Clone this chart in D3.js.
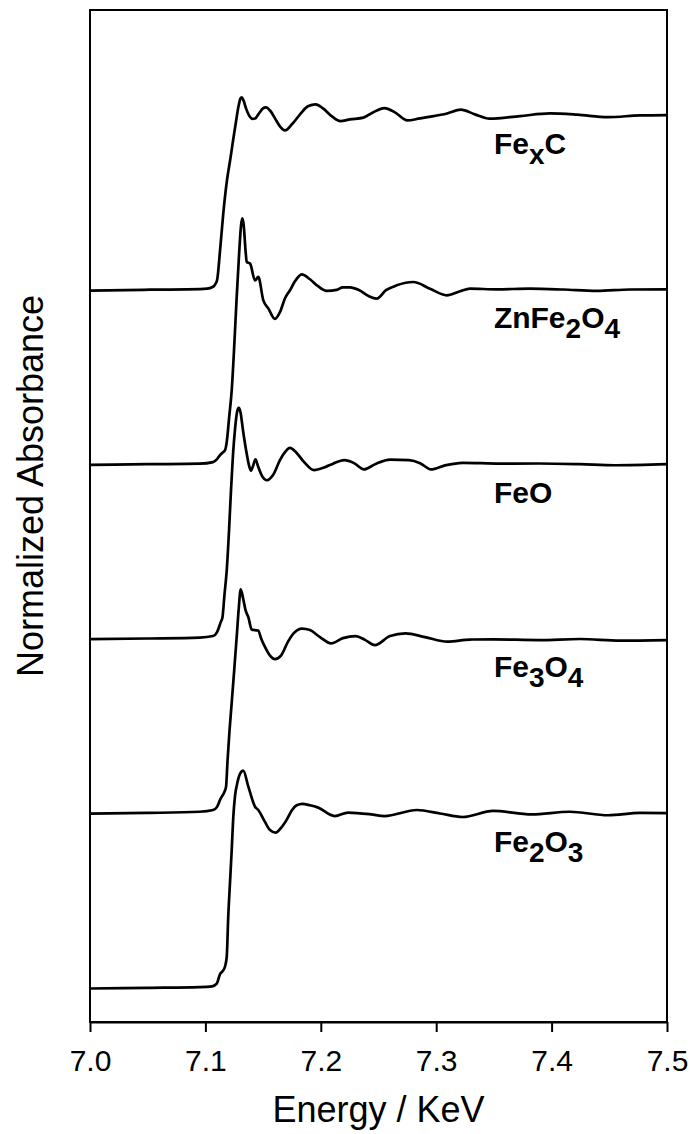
<!DOCTYPE html>
<html>
<head>
<meta charset="utf-8">
<script src="https://cdn.jsdelivr.net/npm/d3@7"></script>
<style>
body { margin: 0; background: #fff; }
</style>
</head>
<body>
<div id="chart"></div>
<script>
// energy (keV), normalized absorbance (before stacking offset)
var fe2o3 = [[7.000,-0.008],[7.050,-0.004],[7.095,0.000],[7.1057,0.004],[7.1098,0.020],[7.1127,0.075],[7.1150,0.092],[7.1170,0.118],[7.1185,0.175],[7.1198,0.404],[7.1213,0.597],[7.1228,0.786],[7.1242,0.977],[7.1256,1.092],[7.1276,1.168],[7.1300,1.222],[7.1328,1.241],[7.1372,1.149],[7.1430,1.034],[7.1458,1.015],[7.1516,0.947],[7.1560,0.900],[7.1609,0.885],[7.1655,0.912],[7.1705,0.960],[7.1751,1.015],[7.1791,1.042],[7.1840,1.050],[7.1906,1.042],[7.1972,1.030],[7.2121,0.980],[7.2236,1.000],[7.2435,0.990],[7.2552,0.980],[7.2834,1.015],[7.3033,0.995],[7.3230,0.975],[7.3492,1.010],[7.3826,0.990],[7.4157,1.005],[7.4489,0.985],[7.4766,0.998],[7.5000,0.997]];

var fe3o4 = [[7.000,-0.006],[7.050,-0.002],[7.095,0.005],[7.1066,0.015],[7.1101,0.033],[7.1127,0.073],[7.1146,0.096],[7.1165,0.119],[7.1179,0.149],[7.1192,0.300],[7.1209,0.470],[7.1228,0.630],[7.1250,0.820],[7.1271,1.005],[7.1289,1.170],[7.1306,1.280],[7.1326,1.230],[7.1348,1.160],[7.1372,1.120],[7.1401,1.050],[7.1426,1.046],[7.1458,1.044],[7.1482,1.000],[7.1516,0.950],[7.1560,0.900],[7.1603,0.880],[7.1655,0.900],[7.1716,0.980],[7.1768,1.030],[7.1835,1.055],[7.1906,1.046],[7.1993,1.006],[7.2088,0.970],[7.2192,1.000],[7.2303,1.012],[7.2383,0.990],[7.2469,0.960],[7.2600,1.012],[7.2734,1.027],[7.2903,1.006],[7.3098,0.980],[7.3293,0.992],[7.3495,0.993],[7.3891,0.989],[7.4246,0.995],[7.4593,0.986],[7.5000,0.989]];

var feo = [[7.000,-0.006],[7.050,-0.002],[7.095,0.003],[7.1066,0.012],[7.1101,0.035],[7.1133,0.092],[7.1148,0.120],[7.1165,0.247],[7.1185,0.390],[7.1205,0.620],[7.1222,0.850],[7.1239,1.050],[7.1257,1.200],[7.1274,1.295],[7.1289,1.320],[7.1304,1.295],[7.1326,1.190],[7.1352,1.080],[7.1378,0.990],[7.1395,0.960],[7.1412,0.985],[7.1434,1.025],[7.1456,0.985],[7.1490,0.930],[7.1534,0.905],[7.1586,0.935],[7.1646,1.020],[7.1690,1.066],[7.1733,1.090],[7.1785,1.066],[7.1854,1.010],[7.1941,0.963],[7.2036,0.980],[7.2106,1.000],[7.2204,1.020],[7.2288,1.003],[7.2374,0.967],[7.2470,0.997],[7.2600,1.023],[7.2764,1.020],[7.2860,1.003],[7.2955,0.967],[7.3076,0.990],[7.3230,1.005],[7.3553,1.000],[7.3891,1.001],[7.4246,0.997],[7.4549,0.991],[7.5000,0.997]];

var znfe2o4 = [[7.000,-0.007],[7.050,-0.003],[7.095,0.000],[7.1066,0.009],[7.1101,0.026],[7.1127,0.049],[7.1144,0.060],[7.1170,0.077],[7.1187,0.135],[7.1205,0.260],[7.1228,0.420],[7.1248,0.650],[7.1270,0.940],[7.1291,1.190],[7.1309,1.366],[7.1320,1.406],[7.1332,1.366],[7.1348,1.220],[7.1358,1.156],[7.1387,1.147],[7.1430,1.050],[7.1458,1.070],[7.1502,0.936],[7.1545,0.890],[7.1603,0.830],[7.1646,0.868],[7.1690,0.948],[7.1733,0.994],[7.1776,1.045],[7.1835,1.085],[7.1906,1.057],[7.1976,1.017],[7.2051,0.990],[7.2138,0.996],[7.2190,1.010],[7.2253,1.010],[7.2330,0.995],[7.2418,0.959],[7.2484,0.946],[7.2565,0.994],[7.2658,1.022],[7.2802,1.041],[7.2946,1.003],[7.3091,0.965],[7.3206,0.988],[7.3293,1.003],[7.3524,0.999],[7.3813,1.003],[7.4101,0.998],[7.4391,0.990],[7.4679,0.998],[7.5000,0.999]];

var fexc = [[7.000,-0.008],[7.052,-0.003],[7.0953,0.000],[7.1014,0.003],[7.1057,0.011],[7.1079,0.022],[7.1101,0.051],[7.1127,0.223],[7.1155,0.435],[7.1187,0.624],[7.1217,0.750],[7.1242,0.862],[7.1265,0.960],[7.1287,1.048],[7.1304,1.093],[7.1315,1.099],[7.1330,1.082],[7.1352,1.036],[7.1378,0.996],[7.1408,0.976],[7.1430,0.978],[7.1464,1.007],[7.1499,1.036],[7.1525,1.042],[7.1560,1.024],[7.1603,0.979],[7.1646,0.933],[7.1690,0.910],[7.1750,0.945],[7.1820,1.002],[7.1889,1.048],[7.1956,1.059],[7.2019,1.036],[7.2097,0.990],[7.2171,0.963],[7.2253,0.973],[7.2369,0.983],[7.2452,1.013],[7.2552,1.038],[7.2643,1.013],[7.2750,0.967],[7.2860,0.979],[7.2964,0.990],[7.3094,1.007],[7.3213,1.029],[7.3336,1.002],[7.3462,0.977],[7.3726,0.992],[7.3986,1.007],[7.4223,1.000],[7.4489,0.986],[7.4766,0.996],[7.5000,0.998]];

var seriesData = [fe2o3, fe3o4, feo, znfe2o4, fexc];
var offsets = [0, 1, 2, 3, 4];
// label pieces: [text, subscript?]
var labels = [
    [["Fe", 0], ["2", 1], ["O", 0], ["3", 1]],
    [["Fe", 0], ["3", 1], ["O", 0], ["4", 1]],
    [["FeO", 0]],
    [["ZnFe", 0], ["2", 1], ["O", 0], ["4", 1]],
    [["Fe", 0], ["x", 1], ["C", 0]]
];
var energyTicks = [7.0, 7.1, 7.2, 7.3, 7.4, 7.5];

var margin = { top: 10, right: 24, bottom: 112, left: 90 };
var width = 691 - margin.left - margin.right;
var height = 1134 - margin.top - margin.bottom;
var font = "'Liberation Sans', Arial, sans-serif";

var svg = d3.select("#chart")
    .append("svg")
    .attr("width", 691)
    .attr("height", 1134)
    .append("g")
    .attr("transform", `translate(${margin.left}, ${margin.top})`);

var x = d3.scaleLinear()
    .domain([7.0, 7.5])
    .range([0, width]);

var y = d3.scaleLinear()
    .domain([-0.2, 5.6])
    .range([height, 0]);

// frame
svg.append("rect")
    .attr("width", width)
    .attr("height", height)
    .attr("fill", "none")
    .attr("stroke", "#000")
    .attr("stroke-width", 2);

// X axis
var xAxis = svg.append("g")
    .attr("transform", `translate(0, ${height})`)
    .call(d3.axisBottom(x)
        .tickValues(energyTicks)
        .tickFormat(d3.format(".1f"))
        .tickSize(10)
        .tickSizeOuter(0)
        .tickPadding(18));

xAxis.select(".domain").attr("stroke-width", 2);
xAxis.selectAll(".tick line").attr("stroke-width", 2);
xAxis.selectAll(".tick text")
    .style("font-family", font)
    .style("font-size", "30px")
    .attr("fill", "#000");

// curves
var line = d3.line()
    .x(d => x(d[0]))
    .y(d => y(d[1]))
    .curve(d3.curveMonotoneX);

seriesData.forEach(function (s, i) {
    svg.append("path")
        .datum(s.map(d => [d[0], d[1] + offsets[i]]))
        .attr("fill", "none")
        .attr("stroke", "#000")
        .attr("stroke-width", 2.7)
        .attr("stroke-linejoin", "round")
        .attr("d", line);
});

// sample labels
labels.forEach(function (parts, i) {
    var t = svg.append("text")
        .attr("x", x(7.350))
        .attr("y", y(offsets[i] + 1) + 39)
        .style("font-family", font)
        .style("font-size", "30px")
        .style("font-weight", "bold");
    var shift = 0;
    parts.forEach(function (p) {
        var dy = p[1] ? 10 - shift : -shift;
        shift = p[1] ? 10 : 0;
        t.append("tspan")
            .attr("dy", dy)
            .style("font-size", p[1] ? "28px" : "30px")
            .text(p[0]);
    });
});

// axis titles
svg.append("text")
    .attr("x", width / 2)
    .attr("y", height + 100)
    .attr("text-anchor", "middle")
    .style("font-family", font)
    .style("font-size", "36px")
    .text("Energy / KeV");

svg.append("text")
    .attr("transform", `translate(${43 - margin.left}, ${486 - margin.top}) rotate(-90)`)
    .attr("text-anchor", "middle")
    .style("font-family", font)
    .style("font-size", "36px")
    .text("Normalized Absorbance");
</script>
</body>
</html>
